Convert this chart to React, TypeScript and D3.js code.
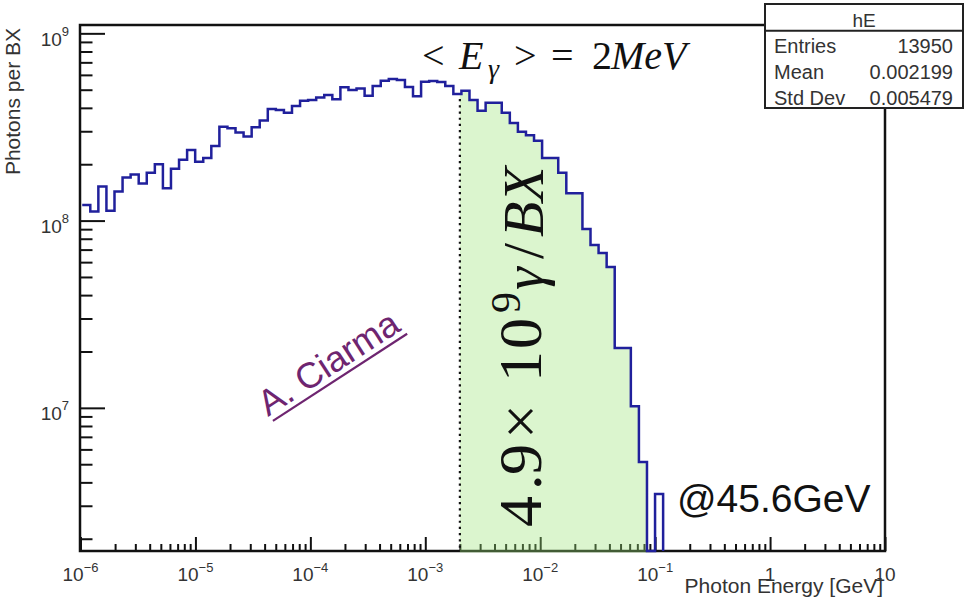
import React, { useRef, useEffect } from 'react';
import * as d3 from 'd3';

// log binning of the histogram (decades)
const LOG_E_START = -5.985;
const LOG_E_WIDTH = 0.0702;

// photons per BX in each energy bin
const photonsPerBX = [
  1.21e8, 1.12e8, 1.52e8, 1.13e8, 1.43e8, 1.70e8, 1.76e8, 1.58e8, 1.80e8, 2.00e8,
  1.49e8, 1.89e8, 2.11e8, 2.38e8, 2.06e8, 2.16e8, 2.50e8, 3.17e8, 3.11e8, 2.95e8,
  2.81e8, 3.15e8, 3.42e8, 3.94e8, 3.90e8, 3.77e8, 4.09e8, 4.37e8, 4.40e8, 4.55e8,
  4.69e8, 4.44e8, 5.15e8, 4.98e8, 5.08e8, 4.64e8, 5.23e8, 5.58e8, 5.70e8, 5.63e8,
  5.17e8, 4.62e8, 5.52e8, 5.56e8, 5.50e8, 5.23e8, 4.74e8, 4.94e8, 4.40e8, 3.86e8,
  4.26e8, 4.26e8, 3.77e8, 3.32e8, 2.98e8, 2.86e8, 2.67e8, 2.16e8, 2.16e8, 1.80e8,
  1.40e8, 1.40e8, 9.02e7, 7.41e7, 6.71e7, 5.65e7, 2.09e7, 2.09e7, 1.02e7, 5.14e6,
  0, 3.47e6,
];

const MEAN_E = 2e-3; // dotted line
const GREEN_MAX_E = 0.09; // shaded region ends here

const xMajor = [1e-6, 1e-5, 1e-4, 1e-3, 1e-2, 1e-1, 1, 10];
const xTickBase = ['10', '10', '10', '10', '10', '10', '1', '10'];
const xTickExp = ['\u22126', '\u22125', '\u22124', '\u22123', '\u22122', '\u22121', '', ''];

const yMajor = [1e7, 1e8, 1e9];
const yTickExp = ['7', '8', '9'];

const statsLabels = ['Entries', 'Mean', 'Std Dev'];
const statsValues = ['13950', '0.002199', '0.005479'];

const SANS = 'Liberation Sans, Arial, sans-serif';
const SERIF = 'Liberation Serif, Times New Roman, serif';

const PhotonSpectrum = () => {
  const svgRef = useRef<SVGSVGElement>(null);

  useEffect(() => {
    const W = 968;
    const H = 600;
    const left = 80;
    const top = 25;
    const right = 885;
    const bottom = 551;

    const svg = d3.select(svgRef.current).attr('width', W).attr('height', H);
    svg.selectAll('*').remove();

    const x = d3.scaleLog().domain([1e-6, 10]).range([left + 0.5, right]);
    const y = d3.scaleLog().domain([1.72e6, 1.108e9]).range([bottom, top]);

    svg.append('rect').attr('width', W).attr('height', H).attr('fill', 'white');

    // ticks (ROOT style, pointing inside)
    const xMinor = x.ticks().filter((t) => !xMajor.some((m) => Math.abs(m - t) / m < 1e-6));
    const yMinor = y.ticks().filter((t) => !yMajor.some((m) => Math.abs(m - t) / m < 1e-6));

    const styleAxis = (g: any) => {
      g.select('.domain').remove();
      g.selectAll('line').attr('stroke', '#111').attr('stroke-width', 2);
    };

    svg.append('g').attr('transform', `translate(0,${bottom})`)
      .call(d3.axisBottom(x).tickValues(xMinor).tickSize(-7).tickFormat(() => ''))
      .call(styleAxis);
    svg.append('g').attr('transform', `translate(0,${bottom})`)
      .call(d3.axisBottom(x).tickValues(xMajor).tickSize(-14).tickFormat(() => ''))
      .call(styleAxis);
    svg.append('g').attr('transform', `translate(${left},0)`)
      .call(d3.axisLeft(y).tickValues(yMinor).tickSize(-12.5).tickFormat(() => ''))
      .call(styleAxis);
    svg.append('g').attr('transform', `translate(${left},0)`)
      .call(d3.axisLeft(y).tickValues(yMajor).tickSize(-25).tickFormat(() => ''))
      .call(styleAxis);

    // frame
    svg.append('rect')
      .attr('x', left).attr('y', top)
      .attr('width', right - left).attr('height', bottom - top)
      .attr('fill', 'none').attr('stroke', '#111').attr('stroke-width', 2.5);

    // histogram
    const edges = d3.range(photonsPerBX.length + 1).map((i) => 10 ** (LOG_E_START + i * LOG_E_WIDTH));
    const yv = (v: number) => (v > 0 ? Math.min(y(v), bottom) : bottom);

    // green shaded part above the mean energy
    const greenIdx = d3.range(photonsPerBX.length)
      .filter((i) => edges[i] >= MEAN_E && edges[i + 1] <= GREEN_MAX_E);
    const meanBin = d3.bisectRight(edges, MEAN_E) - 1;
    const greenPts: [number, number][] = [[MEAN_E, photonsPerBX[meanBin]]];
    greenIdx.forEach((i) => greenPts.push([edges[i], photonsPerBX[i]]));
    const lastG = greenIdx[greenIdx.length - 1];
    greenPts.push([edges[lastG + 1], photonsPerBX[lastG]]);

    const area = d3.area<[number, number]>()
      .x((d) => x(d[0]))
      .y0(bottom + 1.5)
      .y1((d) => yv(d[1]))
      .curve(d3.curveStepAfter);

    svg.append('path')
      .datum(greenPts)
      .attr('fill', '#9be276')
      .attr('fill-opacity', 0.36)
      .attr('d', area);

    const pts: [number, number][] = photonsPerBX.map((v, i) => [edges[i], v]);
    pts.push([edges[photonsPerBX.length], 0]);

    const line = d3.line<[number, number]>()
      .x((d) => x(d[0]))
      .y((d) => yv(d[1]))
      .curve(d3.curveStepAfter);

    svg.append('path')
      .datum(pts)
      .attr('fill', 'none')
      .attr('stroke', '#20209c')
      .attr('stroke-width', 2.5)
      .attr('d', line);

    // dotted line at the mean
    svg.append('line')
      .attr('x1', x(MEAN_E)).attr('x2', x(MEAN_E))
      .attr('y1', yv(photonsPerBX[meanBin]) + 5).attr('y2', bottom)
      .attr('stroke', '#111')
      .attr('stroke-width', 2.2)
      .attr('stroke-dasharray', '2.2 4');

    // x tick labels
    xMajor.forEach((v, i) => {
      const t = svg.append('text')
        .attr('x', x(v)).attr('y', 581)
        .attr('text-anchor', 'middle')
        .attr('font-family', SANS).attr('font-size', 19).attr('fill', '#333')
        .text(xTickBase[i]);
      if (xTickExp[i]) {
        t.append('tspan').attr('dy', -9).attr('font-size', 13).text(xTickExp[i]);
      }
    });

    // y tick labels
    yMajor.forEach((v, i) => {
      svg.append('text')
        .attr('x', 69).attr('y', y(v) + 12.5)
        .attr('text-anchor', 'end')
        .attr('font-family', SANS).attr('font-size', 19).attr('fill', '#333')
        .text('10')
        .append('tspan').attr('dy', -10).attr('font-size', 13).text(yTickExp[i]);
    });

    // axis titles
    svg.append('text')
      .attr('x', 883).attr('y', 593)
      .attr('text-anchor', 'end')
      .attr('font-family', SANS).attr('font-size', 21).attr('fill', '#333')
      .text('Photon Energy [GeV]');

    svg.append('text')
      .attr('transform', 'translate(20,28) rotate(-90)')
      .attr('text-anchor', 'end')
      .attr('font-family', SANS).attr('font-size', 21).attr('fill', '#333')
      .text('Photons per BX');

    // stats box
    const bx = 765;
    const by = 4;
    const bw = 198;
    const bh = 104;
    svg.append('rect')
      .attr('x', bx).attr('y', by).attr('width', bw).attr('height', bh)
      .attr('fill', 'white').attr('stroke', '#222').attr('stroke-width', 2);
    svg.append('line')
      .attr('x1', bx).attr('x2', bx + bw).attr('y1', 30.7).attr('y2', 30.7)
      .attr('stroke', '#222').attr('stroke-width', 2);
    svg.append('text')
      .attr('x', bx + bw / 2).attr('y', 26.5)
      .attr('text-anchor', 'middle')
      .attr('font-family', SANS).attr('font-size', 19).attr('fill', '#333')
      .text('hE');
    const rowY = [52.7, 79, 105];
    statsLabels.forEach((lab, i) => {
      svg.append('text')
        .attr('x', bx + 9).attr('y', rowY[i])
        .attr('font-family', SANS).attr('font-size', 20).attr('fill', '#333')
        .text(lab);
      svg.append('text')
        .attr('x', bx + 188).attr('y', rowY[i])
        .attr('text-anchor', 'end')
        .attr('font-family', SANS).attr('font-size', 20).attr('fill', '#333')
        .text(statsValues[i]);
    });

    // <E_gamma> = 2MeV
    const eq = svg.append('text')
      .attr('font-family', SERIF).attr('font-size', 40).attr('fill', '#111');
    eq.append('tspan').attr('x', 422).attr('y', 69).text('<');
    eq.append('tspan').attr('x', 459).attr('y', 69).attr('font-style', 'italic').text('E');
    eq.append('tspan').attr('x', 488).attr('y', 78).attr('font-style', 'italic').attr('font-size', 28).text('\u03b3');
    eq.append('tspan').attr('x', 514).attr('y', 69).text('>');
    eq.append('tspan').attr('x', 551).attr('y', 69).text('=');
    eq.append('tspan').attr('x', 592).attr('y', 69).text('2');
    eq.append('tspan').attr('x', 611).attr('y', 69).attr('font-style', 'italic').text('MeV');

    // 4.9 x 10^9 gamma/BX, rotated
    const rot = svg.append('g').attr('transform', 'translate(541,527) rotate(-90)');
    const big = rot.append('text').attr('font-family', SERIF).attr('font-size', 62).attr('fill', '#111');
    const pieces = [
      { t: '4', x: 0 }, { t: '.', x: 37 }, { t: '9', x: 52 }, { t: '\u00d7', x: 88 },
      { t: '1', x: 145 }, { t: '0', x: 178 },
    ];
    pieces.forEach((p) => big.append('tspan').attr('x', p.x).attr('y', 0).text(p.t));
    big.append('tspan').attr('x', 214).attr('y', -21).attr('font-size', 42).text('9');
    const tail = [
      { t: '\u03b3', x: 237, it: true }, { t: '/', x: 268, it: false },
      { t: 'B', x: 290, it: true }, { t: 'X', x: 325, it: true },
    ];
    tail.forEach((p) => big.append('tspan')
      .attr('x', p.x).attr('y', 2)
      .attr('font-size', 58)
      .attr('font-style', p.it ? 'italic' : 'normal')
      .text(p.t));

    // author tag
    const tag = svg.append('g').attr('transform', 'translate(268,417) rotate(-33)');
    const tagText = tag.append('text')
      .attr('font-family', SANS).attr('font-size', 36).attr('fill', '#6e2570')
      .text('A. Ciarma');
    const len = (tagText.node() as SVGTextElement).getComputedTextLength();
    tag.append('line')
      .attr('x1', 2).attr('x2', len + 2).attr('y1', 6).attr('y2', 6)
      .attr('stroke', '#6e2570').attr('stroke-width', 2.2);

    svg.append('text')
      .attr('x', 677).attr('y', 512)
      .attr('font-family', SANS).attr('font-size', 39).attr('fill', '#111')
      .text('@45.6GeV');
  }, []);

  return <svg ref={svgRef} style={{ position: 'absolute', left: 0, top: 0 }}></svg>;
};

export default function App() {
  return <PhotonSpectrum />;
}
